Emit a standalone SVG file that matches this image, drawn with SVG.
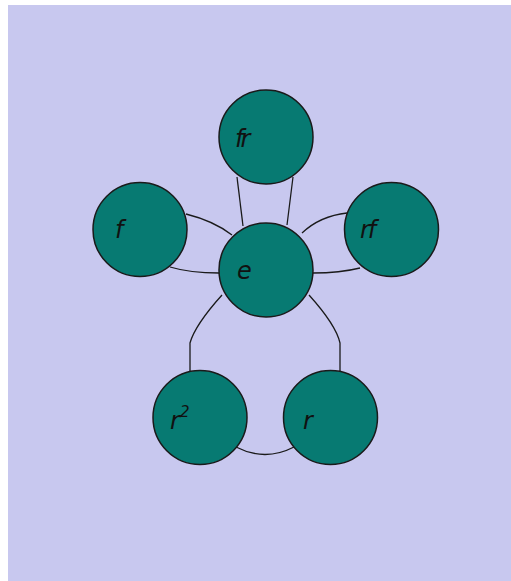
<svg xmlns="http://www.w3.org/2000/svg" width="511" height="581" viewBox="0 0 511 581">
<style>
.n{fill:#077A72;stroke:#1a1a1a;stroke-width:1.5}
.t{font-family:"DejaVu Sans",Verdana,sans-serif;font-style:italic;font-size:24px;fill:#111}
.c{fill:none;stroke:#1a1a1a;stroke-width:1.3}
</style>
<rect x="0" y="0" width="511" height="581" fill="#ffffff"/>
<rect x="8" y="5" width="503" height="576" fill="#C8C8EF"/>
<g id="connectors">
<path class="c" d="M237 177 L243 226"/>
<path class="c" d="M293 177 L287 225"/>
<path class="c" d="M186 214 Q214 221 232 235"/>
<path class="c" d="M170 267 Q190 273 219 273"/>
<path class="c" d="M347 213 Q320 216 302 233"/>
<path class="c" d="M313 273 Q340 273 360 268"/>
<path class="c" d="M222 295 Q195 325 190 343 L190 371"/>
<path class="c" d="M309 295 Q336 325 340 343 L340 371"/>
<path class="c" d="M236 447 Q265 462 294 447"/>
</g>
<g id="node-fr"><circle class="n" cx="266" cy="137" r="47"/><text class="t" x="235" y="147" letter-spacing="-3">fr</text></g>
<g id="node-f"><circle class="n" cx="140" cy="229.5" r="47"/><text class="t" x="115" y="238">f</text></g>
<g id="node-rf"><circle class="n" cx="391.5" cy="229.5" r="47"/><text class="t" x="360" y="238" letter-spacing="-2">rf</text></g>
<g id="node-e"><circle class="n" cx="266" cy="270" r="47"/><text class="t" x="237" y="279">e</text></g>
<g id="node-r2"><circle class="n" cx="200" cy="417.5" r="47"/><text class="t" x="170" y="429">r<tspan font-size="15" dy="-12">2</tspan></text></g>
<g id="node-r"><circle class="n" cx="330.5" cy="417.5" r="47"/><text class="t" x="303" y="429">r</text></g>
</svg>
